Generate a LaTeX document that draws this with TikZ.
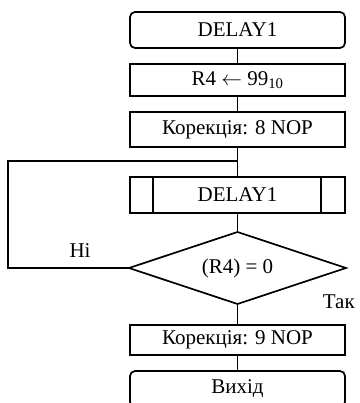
\documentclass[tikz,border=0pt]{standalone}
\usepackage{fontspec}
\setmainfont{Liberation Serif}
\usetikzlibrary{shapes.geometric}
\begin{document}
\begin{tikzpicture}[x=1pt,y=-1pt,line width=1.7pt,
  every node/.style={font=\fontsize{21}{25}\selectfont},
  blockbox/.style={draw,rectangle,minimum width=215pt,inner sep=0pt,outer sep=0pt},
  termbox/.style={blockbox,rounded corners=5pt},
  subbox/.style={blockbox},
  decbox/.style={draw,diamond,aspect=3,minimum width=217pt,minimum height=72pt,inner sep=0pt,outer sep=0pt},
  flow/.style={line width=1.7pt}]
\useasboundingbox (0,0) rectangle (359,403);

\node[termbox,minimum height=36pt] (start) at (237.5,30) {DELAY1};
\node[blockbox,minimum height=32pt] (init) at (237.5,80) {R4 $\leftarrow$ 99\textsubscript{10}};
\node[blockbox,minimum height=35pt] (corr1) at (237.5,129.5) {Корекція: 8 NOP};
\coordinate (join) at (237.5,161);
\node[subbox,minimum height=36pt] (sub) at (237.5,195) {DELAY1};
\draw ([xshift=23pt]sub.north west) -- ([xshift=23pt]sub.south west);
\draw ([xshift=-24pt]sub.north east) -- ([xshift=-24pt]sub.south east);
\node[decbox] (dec) at (237.5,268) {(R4) = 0};
\node[blockbox,minimum height=30pt] (corr2) at (237.5,340) {Корекція: 9 NOP};
\node[termbox,minimum height=36pt] (exit) at (237.5,389) {Вихід};

\coordinate (loopbot) at (8,268);
\coordinate (looptop) at (8,161);

\draw[flow] (start) -- (init);
\draw[flow] (init) -- (corr1);
\draw[flow] (corr1) -- (sub);
\draw[flow] (sub) -- (dec);
\draw[flow] (dec) -- (corr2);
\draw[flow] (corr2) -- (exit);
\draw[flow] (dec.west) -- (loopbot) -- (looptop) -- (join);

\node (no) at (80,251) {Ні};
\node[anchor=west,inner sep=0pt] (yes) at (322,302) {Так};
\end{tikzpicture}
\end{document}
